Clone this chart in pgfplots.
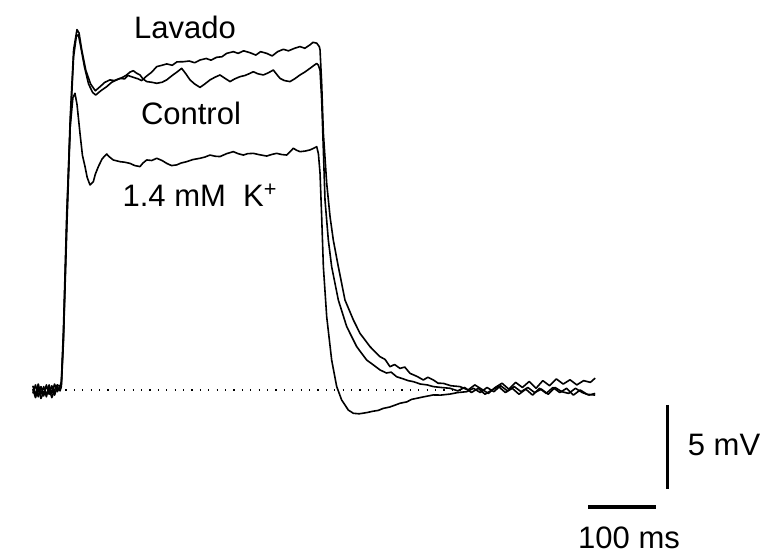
\documentclass[border=0pt]{standalone}
\usepackage{pgfplots}
\pgfplotsset{compat=1.18}
\usepackage{fontspec}
\setmainfont{Liberation Sans}
\begin{document}
\begin{tikzpicture}
\begin{axis}[scale only axis, width=384pt, height=275.5pt,
  xmin=-88.24, xmax=1041.18, ymin=-9.47, ymax=22.94,
  hide axis, clip=false]
\path (rel axis cs:0,0) rectangle (rel axis cs:1,1);
% dotted baseline
\addplot[black, line width=0.75pt, dash pattern=on 0.6pt off 3.6pt] coordinates {(8,0) (590,0)};
% Lavado
\addplot[black, line width=0.8pt, line join=round] table {
-40 0.25
-36 -0.3
-32 0.35
-28 -0.25
-24 0.2
-20 -0.4
-16 0.3
-12 -0.2
-8 0.35
-4 -0.1
0 0.2
2 0.4
5 3
10 10
15 16
20 20
25 21.2
28 21.0
32 20.0
38 18.8
45 18.0
52 17.6
58.8 17.84
66 18.1
73.5 18.24
80 18.2
88.2 18.33
95 18.3
100 18.5
107.8 18.39
115 18.3
120 18.2
127.5 18.47
135 18.7
142.2 19.02
150 19.1
156.9 19.18
165 19.1
172 19.3
181.4 19.31
190 19.35
198 19.25
205.9 19.41
215 19.5
222 19.4
230.4 19.57
238 19.6
245.1 19.8
254.9 19.9
262 19.8
270 19.95
279.4 19.84
288 19.7
295 19.9
304 19.8
312 19.65
320 19.9
328.4 20.04
336 19.95
345 20.1
352.9 20.2
360 20.1
367.6 20.3
372 20.45
377.5 20.4
381.3 20.2
382.4 20.0
384.8 18.04
387.3 15.1
392.2 12.16
397.1 10.2
401.9 8.82
409.3 7.25
419.1 5.29
431.4 4.12
441.2 3.33
455.9 2.55
470.6 1.96
478 1.8
485.3 1.37
492 1.5
500 1.27
507 1.35
514.7 0.98
525 0.8
534.3 0.59
541 0.75
549 0.59
556 0.4
563.7 0.39
575 0.25
588.2 0.2
600 0.0
610 0.3
620 0.05
630 -0.2
640 0.15
650 0.4
660 0.05
670 0.45
680 0.15
690 0.5
700 0.1
710 0.55
720 0.25
730 0.65
740 0.35
750 0.6
760 0.3
770 0.55
780 0.45
787 0.7
};
% Control
\addplot[black, line width=0.8pt, line join=round] table {
-40 -0.2
-36 0.3
-32 -0.4
-28 0.2
-24 -0.35
-20 0.3
-16 -0.25
-12 0.25
-8 -0.3
-4 0.2
0 -0.05
2 0.2
5 2.8
10 9.5
15 15.5
20 19.6
24 20.8
27 20.9
30 20.3
36 19.0
42 18.0
48 17.5
52.5 17.35
60 17.6
68.6 17.84
76 18.1
83.3 18.24
90 18.35
97 18.5
103 18.7
107.8 18.78
112 18.65
117.6 18.53
122 18.3
127.5 18.14
135 18.1
142.2 18.04
150 18.1
156.9 18.24
165 18.5
172 18.7
178.9 18.92
185 18.6
191.2 18.24
198 18.0
205.9 17.8
213 18.0
220.6 18.24
228 18.4
235.3 18.53
242 18.35
250 18.14
257 18.3
264.7 18.43
272 18.5
278 18.6
284.3 18.72
291 18.6
299 18.53
306 18.65
313.7 18.82
318 18.6
323.5 18.33
330 18.2
338.2 18.14
345 18.3
352.9 18.53
360 18.7
367.6 18.92
372 19.05
377.5 19.21
380 19.1
382.4 18.8
384.8 17.06
387.3 14.1
389.7 11.18
394.6 8.82
399.5 7.25
409.3 5.29
421.6 3.73
436.3 2.55
451 1.76
460 1.5
470.6 1.18
480 1.0
487 1.05
495.1 0.78
505 0.65
512 0.55
519.6 0.49
530 0.35
540 0.3
549 0.2
560 0.15
573.5 0.1
585 -0.05
595 0.15
605 -0.15
615 0.1
625 -0.25
635 0.0
645 0.2
655 -0.15
665 0.1
675 -0.25
685 0.05
695 -0.3
705 0.1
715 -0.2
725 0.15
735 -0.15
745 0.1
755 -0.3
765 0.0
775 -0.25
787 -0.3
};
% 1.4 mM K+
\addplot[black, line width=0.8pt, line join=round] table {
-40 0.05
-36 -0.45
-32 0.1
-28 -0.5
-24 -0.1
-20 -0.2
-16 0.1
-12 -0.45
-8 0.0
-4 0.3
0 0.2
2 0.5
5 3.5
10 10.5
15 15.5
19 17.2
22 17.45
25 16.8
29.4 15.1
33 13.8
36.8 13.14
40 12.5
44.1 12.06
49 12.25
52 12.7
56.4 13.14
62 13.6
68.6 13.88
73 13.7
78.4 13.53
88.2 13.43
95 13.4
102.9 13.33
110 13.2
117.6 13.14
122 13.35
127.5 13.53
135 13.5
142.2 13.63
150 13.5
156.9 13.33
164 13.2
171.6 13.24
178 13.35
186.3 13.43
195 13.55
205.9 13.63
213 13.7
220.6 13.82
228 13.75
235.3 13.73
245 13.9
254.9 14.02
262 13.9
269.6 13.82
276 13.9
284.3 13.92
292 13.85
304 13.76
311 13.85
318.6 13.92
326 13.85
333.4 13.82
338 14.0
343.1 14.22
348 14.1
352.9 14.02
360 14.05
367.6 14.12
372 14.2
377.5 14.31
380 13.9
382.4 12.75
384.8 10.2
387.3 7.25
392.2 4.31
399.5 1.76
406.9 0.2
414.2 -0.59
424 -1.18
431.4 -1.37
440 -1.4
451 -1.33
460 -1.25
468 -1.2
475.5 -1.08
485 -1.0
492 -0.9
500 -0.78
510 -0.7
517 -0.55
524.5 -0.49
535 -0.4
549 -0.29
560 -0.3
573.5 -0.24
585 -0.15
598 -0.1
608 0.1
618 -0.15
628 0.15
638 -0.1
648 0.25
658 -0.05
668 0.2
678 -0.1
688 0.15
698 -0.15
708 0.05
718 -0.25
728 0.15
738 -0.1
748 -0.2
758 0.1
768 -0.15
778 -0.3
787 -0.2
};
% scale bars
\draw[black, line width=1.5pt] (axis cs:894,-0.88) -- (axis cs:894,-5.82);
\draw[black, line width=1.8pt] (axis cs:776.5,-6.88) -- (axis cs:876.5,-6.88);
% labels
\node[font=\fontsize{15.5}{18}\selectfont] at (axis cs:183.8,21.35) {Lavado};
\node[font=\fontsize{15.5}{18}\selectfont] at (axis cs:192.6,16.29) {Control};
\node[font=\fontsize{15.5}{18}\selectfont] at (axis cs:206,11.47) {1.4 mM\ \ K\textsuperscript{+}};
\node[font=\fontsize{15.5}{18}\selectfont] at (axis cs:976.5,-3.24) {5 mV};
\node[font=\fontsize{15.5}{18}\selectfont] at (axis cs:836.8,-8.71) {100 ms};
\end{axis}
\end{tikzpicture}
\end{document}
